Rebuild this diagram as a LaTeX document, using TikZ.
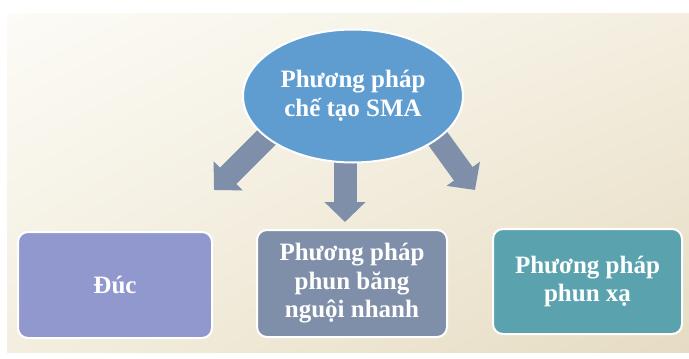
\documentclass[tikz,border=0pt]{standalone}
\usepackage{fontspec}
\setmainfont{Liberation Serif}
\usetikzlibrary{shapes.geometric,arrows.meta,backgrounds,shadings}
\definecolor{bgA}{HTML}{FCFBF6}
\definecolor{bgM}{HTML}{F3EEDF}
\definecolor{bgB}{HTML}{E6DCC3}
\definecolor{ellC}{HTML}{5F9DD1}
\definecolor{arrC}{HTML}{7F8FAA}
\definecolor{boxA}{HTML}{9098CD}
\definecolor{boxB}{HTML}{7F8FA9}
\definecolor{boxC}{HTML}{5AA3AE}
\begin{document}
\begin{tikzpicture}[x=1pt,y=-1pt,
  lbl/.style={text=white,font=\fontsize{25}{28.5}\selectfont\bfseries,align=center},
  box/.style={lbl,draw=white,line width=2pt,rounded corners=10pt,inner sep=0pt},
  bigarrow/.style={draw=arrC,line width=23pt,-{Triangle[length=20pt,width=40pt]}}
]
\useasboundingbox (0,0) rectangle (689,359);

\node[lbl,ellipse,fill=ellC,draw=white,line width=2pt,minimum width=220pt,minimum height=133pt,inner sep=0pt] (ell) at (353,96) {Phương pháp\\chế tạo SMA};

\node[box,fill=boxA,minimum width=194pt,minimum height=106pt] (b1) at (115,285) {Đúc};
\node[box,fill=boxB,minimum width=190pt,minimum height=107pt] (b2) at (352,283.5) {Phương pháp\\phun băng\\nguội nhanh};
\node[box,fill=boxC,minimum width=189pt,minimum height=105pt] (b3) at (587.5,281.5) {Phương pháp\\phun xạ};

\coordinate (t1) at (214,190);
\coordinate (t2) at (345,222);
\coordinate (t3) at (475,190);

\begin{pgfonlayer}{background}
  \fill[white] (0,0) rectangle (689,359);
  \shade[upper left=bgA,upper right=bgM,lower left=bgM,lower right=bgB] (7,13) rectangle (689,352);
  \draw[bigarrow] ([shift={(-79,34)}]ell.center) -- (t1);
  \draw[bigarrow] ([shift={(-8,44)}]ell.center) -- (t2);
  \draw[bigarrow] ([shift={(75,29)}]ell.center) -- (t3);
\end{pgfonlayer}
\end{tikzpicture}
\end{document}
